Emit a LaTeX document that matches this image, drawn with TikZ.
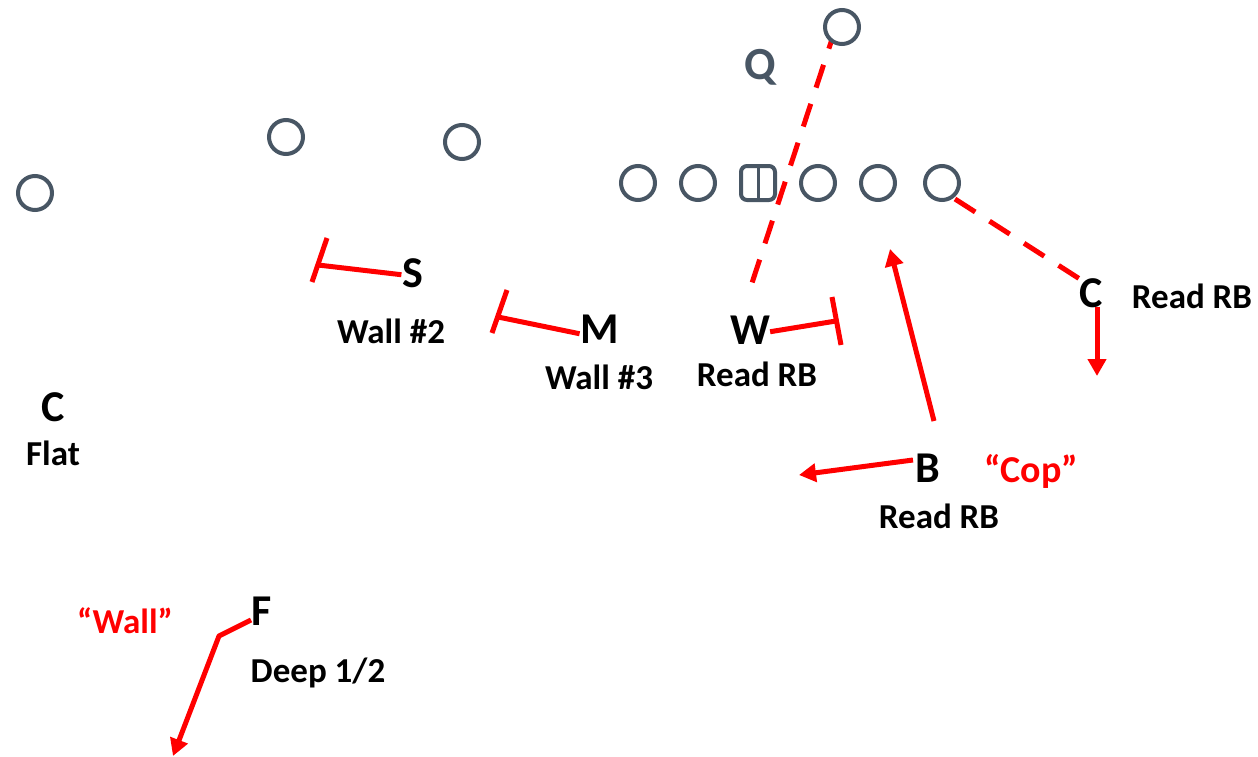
\documentclass[tikz,border=0pt]{standalone}
\usepackage{fontspec}
\setmainfont{Carlito}
\usetikzlibrary{arrows.meta}
\definecolor{pgray}{RGB}{72,86,100}
\definecolor{pred}{RGB}{255,0,0}
\tikzset{
  player/.style={circle, draw=pgray, line width=4pt, fill=white, minimum size=34pt, inner sep=0pt},
  centerbox/.style={rectangle, rounded corners=6pt, draw=pgray, line width=4pt, fill=white, minimum size=34pt, inner sep=0pt},
  big/.style={font=\bfseries\fontsize{44}{44}\selectfont, inner sep=0pt, anchor=base},
  lab/.style={font=\bfseries\fontsize{35}{35}\selectfont, inner sep=0pt, anchor=base},
  redlab/.style={lab, text=pred},
  route/.style={draw=pred, line width=5pt},
  arr/.style={route, line join=round, -{Triangle[length=17pt,width=18pt]}},
  blitz/.style={route, dash pattern=on 24pt off 17pt},
}
\begin{document}
\begin{tikzpicture}[x=1pt,y=-1pt]
\useasboundingbox (0,0) rectangle (1258,757);
% labels
\node[big, text=pgray, font=\bfseries\fontsize{46}{46}\selectfont] (Q) at (760,80) {Q};
\node[big] (S) at (413,287) {S};
\node[lab] (wall2) at (391,343) {Wall \#2};
\node[big] (M) at (600,343) {M};
\node[lab] (wall3) at (599,389) {Wall \#3};
\node[big] (W) at (750,344) {W};
\node[lab] (readW) at (757,386) {Read RB};
\node[big] (B) at (928,482) {B};
\node[redlab, font=\bfseries\fontsize{38}{38}\selectfont] (cop) at (1031,482) {“Cop”};
\node[lab] (readB) at (939,528) {Read RB};
\node[big] (C2) at (1091,307) {C};
\node[lab] (readC) at (1192,308) {Read RB};
\node[big] (C1) at (53,421) {C};
\node[lab] (flat) at (53,465) {Flat};
\node[big] (F) at (262,625) {F};
\node[redlab] (wallq) at (125,633) {“Wall”};
\node[lab] (deep) at (318,682) {Deep 1/2};
% coordinates for route ends
\coordinate (qStart) at (834,33);
\coordinate (wTop) at (751,286);
\coordinate (eStart) at (955,199);
\coordinate (cTop) at (1086,283);
\coordinate (sEnd) at (318,265);
\coordinate (sBar1) at (327,238);
\coordinate (sBar2) at (312,282);
\coordinate (mEnd) at (498,317);
\coordinate (mBar1) at (507,290);
\coordinate (mBar2) at (492,333);
\coordinate (wEnd) at (836,321);
\coordinate (wBar1) at (832,297);
\coordinate (wBar2) at (841,345);
\coordinate (bUp) at (934,421);
\coordinate (bUpTip) at (890,249);
\coordinate (bLeft) at (913,460);
\coordinate (bLeftTip) at (799,475);
\coordinate (cDown) at (1097,307);
\coordinate (cDownTip) at (1097,376);
\coordinate (fStart) at (251,620);
\coordinate (fKnee) at (219,636);
\coordinate (fTip) at (173,756);
% routes
\draw[blitz, dash phase=7.5pt] (qStart) -- (wTop);
\draw[blitz] (eStart) -- (cTop);
\draw[route] ([xshift=-1pt,yshift=-2pt]S.west) -- (sEnd);
\draw[route] (sBar1) -- (sBar2);
\draw[route] ([xshift=-1pt,yshift=-5pt]M.west) -- (mEnd);
\draw[route] (mBar1) -- (mBar2);
\draw[route] ([yshift=-2pt]W.east) -- (wEnd);
\draw[route] (wBar1) -- (wBar2);
\draw[arr] (bUp) -- (bUpTip);
\draw[arr] (bLeft) -- (bLeftTip);
\draw[arr] (cDown) -- (cDownTip);
\draw[arr] (fStart) -- (fKnee) -- (fTip);
% players
\node[player] (p1) at (35,193) {};
\node[player] (p2) at (286,137) {};
\node[player] (p3) at (462,142) {};
\node[player] (qb) at (842,27) {};
\node[player] (lg) at (638,183) {};
\node[player] (lt) at (698,183) {};
\node[centerbox] (ctr) at (758,183) {};
\draw[pgray, line width=3pt] (ctr.north) -- (ctr.south);
\node[player] (rg) at (818,183) {};
\node[player] (rt) at (878,183) {};
\node[player] (te) at (942,183) {};
\end{tikzpicture}
\end{document}
